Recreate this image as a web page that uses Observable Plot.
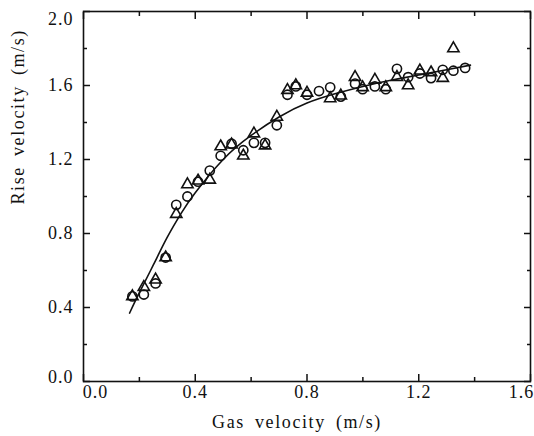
<!DOCTYPE html>
<html>
<head>
<meta charset="utf-8">
<script src="https://cdn.jsdelivr.net/npm/d3@7"></script>
<script src="https://cdn.jsdelivr.net/npm/@observablehq/plot@0.6"></script>
<style>
  html, body { margin: 0; padding: 0; background: #fff; }
  #chart svg, #chart svg text { font-family: "Liberation Serif", "DejaVu Serif", serif !important; font-size: 18px !important; }
  #chart svg [aria-label$="tick label"] text { letter-spacing: 1px; }
  #chart svg [aria-label$="axis label"] text, #chart svg [aria-label="text"] text { letter-spacing: 1.6px; word-spacing: 4px; }
</style>
</head>
<body>
<div id="chart"></div>
<script>
// Circles (open circle series)
const circleX = [0.175, 0.216, 0.258, 0.294, 0.332, 0.372, 0.410, 0.452, 0.491, 0.530, 0.572, 0.610, 0.650, 0.692, 0.730, 0.760, 0.800, 0.843, 0.883, 0.921, 0.972, 0.999, 1.043, 1.082, 1.122, 1.162, 1.204, 1.244, 1.286, 1.324, 1.366];
const circleY = [0.46, 0.47, 0.53, 0.67, 0.955, 1.00, 1.08, 1.14, 1.22, 1.285, 1.25, 1.29, 1.29, 1.385, 1.55, 1.595, 1.55, 1.57, 1.59, 1.54, 1.61, 1.58, 1.595, 1.58, 1.69, 1.645, 1.665, 1.64, 1.685, 1.68, 1.695];
// Triangles (open triangle series)
const triX = [0.175, 0.216, 0.258, 0.294, 0.332, 0.372, 0.410, 0.452, 0.491, 0.530, 0.572, 0.610, 0.650, 0.692, 0.730, 0.760, 0.800, 0.883, 0.921, 0.972, 0.999, 1.043, 1.082, 1.122, 1.162, 1.204, 1.244, 1.286, 1.324];
const triY = [0.46, 0.51, 0.55, 0.67, 0.905, 1.065, 1.085, 1.09, 1.27, 1.28, 1.22, 1.34, 1.275, 1.43, 1.575, 1.60, 1.56, 1.53, 1.545, 1.645, 1.59, 1.63, 1.59, 1.645, 1.60, 1.68, 1.67, 1.64, 1.80];
// Fitted curve
const curveX = [0.165, 0.20, 0.25, 0.30, 0.35, 0.40, 0.50, 0.60, 0.70, 0.80, 0.90, 1.00, 1.10, 1.20, 1.30, 1.385];
const curveY = [0.37, 0.48, 0.63, 0.78, 0.91, 1.02, 1.20, 1.33, 1.43, 1.505, 1.555, 1.595, 1.628, 1.657, 1.685, 1.71];
// Ticks
const xTicks = [0.0, 0.4, 0.8, 1.2, 1.6];
const xMinor = [0.2, 0.6, 1.0, 1.4];
const yTicks = [0.0, 0.4, 0.8, 1.2, 1.6, 2.0];
const yMinor = [0.2, 0.6, 1.0, 1.4, 1.8];
const xTitle = "Gas velocity (m/s)";
const yTitle = "Rise velocity (m/s)";

const circles = circleX.map((x, i) => ({x, y: circleY[i]}));
const tris = triX.map((x, i) => ({x, y: triY[i]}));
const curve = curveX.map((x, i) => ({x, y: curveY[i]}));
const ink = "#111";
const fmt = d => d.toFixed(1);
const xFirst = xTicks.slice(0, 1), xMid = xTicks.slice(1, -1), xLast = xTicks.slice(-1);
const yFirst = yTicks.slice(0, 1), yMid = yTicks.slice(1, -1), yLast = yTicks.slice(-1);
const tickOpts = {stroke: ink, strokeWidth: 1.5};

const chart = Plot.plot({
  width: 534,
  height: 436,
  marginLeft: 83,
  marginRight: 4,
  marginTop: 11,
  marginBottom: 55,
  style: {fontFamily: "Liberation Serif", fontSize: "18px", color: ink, background: "#fff"},
  x: {domain: [0, 1.6]},
  y: {domain: [0, 2.0]},
  marks: [
    Plot.frame({stroke: ink, strokeWidth: 1.6}),
    // bottom axis: ticks inward, labels
    Plot.axisX({ticks: xTicks, tickSize: -7, ...tickOpts, text: null, label: null}),
    Plot.axisX({ticks: xMinor, tickSize: -4, ...tickOpts, text: null, label: null}),
    Plot.axisX({ticks: xMid, tickFormat: fmt, tickSize: 0, tickPadding: 4, label: null}),
    Plot.axisX({ticks: xFirst, tickFormat: fmt, tickSize: 0, tickPadding: 4, dx: 12, label: null}),
    Plot.axisX({ticks: xLast, tickFormat: fmt, tickSize: 0, tickPadding: 4, dx: -9, label: null}),
    Plot.text([xTitle], {text: d => d, frameAnchor: "bottom", lineAnchor: "middle", dy: 41, dx: -10, fill: ink}),
    // top axis
    Plot.axisX({anchor: "top", ticks: xTicks, tickSize: -7, ...tickOpts, text: null, label: null}),
    Plot.axisX({anchor: "top", ticks: xMinor, tickSize: -4, ...tickOpts, text: null, label: null}),
    // left axis
    Plot.axisY({ticks: yTicks, tickSize: -7, ...tickOpts, text: null, label: null}),
    Plot.axisY({ticks: yMinor, tickSize: -4, ...tickOpts, text: null, label: null}),
    Plot.axisY({ticks: yMid, tickFormat: fmt, tickSize: 0, tickPadding: 10, label: null}),
    Plot.axisY({ticks: yFirst, tickFormat: fmt, tickSize: 0, tickPadding: 10, dy: -4, label: null}),
    Plot.axisY({ticks: yLast, tickFormat: fmt, tickSize: 0, tickPadding: 10, dy: 8, label: null}),
    Plot.text([yTitle], {text: d => d, frameAnchor: "left", dx: -65, dy: 8, rotate: -90, fill: ink}),
    // right axis
    Plot.axisY({anchor: "right", ticks: yTicks, tickSize: -7, ...tickOpts, text: null, label: null}),
    Plot.axisY({anchor: "right", ticks: yMinor, tickSize: -4, ...tickOpts, text: null, label: null}),
    // data
    Plot.line(curve, {x: "x", y: "y", curve: "natural", stroke: ink, strokeWidth: 1.6}),
    Plot.dot(circles, {x: "x", y: "y", r: 4.6, stroke: ink, strokeWidth: 1.6, fill: "none"}),
    Plot.dot(tris, {x: "x", y: "y", r: 4.2, symbol: "triangle", stroke: ink, strokeWidth: 1.6, fill: "none"})
  ]
});
document.getElementById("chart").appendChild(chart);
</script>
</body>
</html>
